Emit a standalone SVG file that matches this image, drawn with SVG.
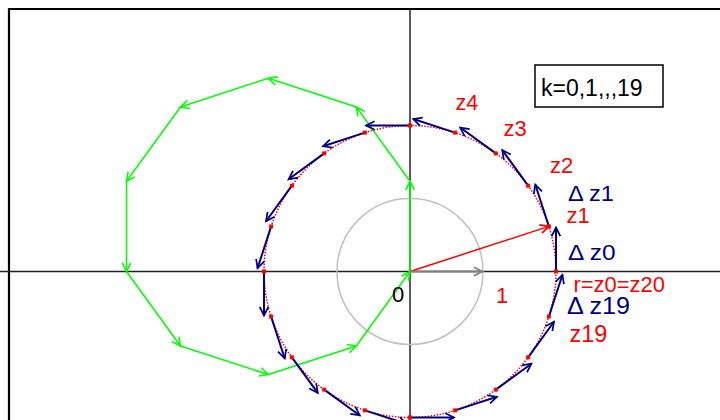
<svg xmlns="http://www.w3.org/2000/svg" width="720" height="420" viewBox="0 0 720 420">
<style>
text{font-family:"Liberation Sans",Arial,sans-serif}
.red{fill:#FF0000}.navy{fill:#000080}
.ax{stroke:#222;stroke-width:1.5;fill:none}
.blue line{stroke:#000080;stroke-width:2;marker-end:url(#mb)}
.green line{stroke:#00FF00;stroke-width:1.5;marker-end:url(#mg)}
.pt{fill:#FF0000}
</style>
<defs>
<marker id="mb" markerUnits="userSpaceOnUse" markerWidth="24" markerHeight="24" refX="0" refY="0" viewBox="-14 -12 28 24" orient="auto" overflow="visible"><path d="M-10,-5 L0,0 L-10,5" fill="none" stroke="#000080" stroke-width="2"/></marker>
<marker id="mg" markerUnits="userSpaceOnUse" markerWidth="24" markerHeight="24" refX="0" refY="0" viewBox="-14 -12 28 24" orient="auto" overflow="visible"><path d="M-10,-5 L0,0 L-10,5" fill="none" stroke="#00FF00" stroke-width="1.8"/></marker>
<marker id="mr" markerUnits="userSpaceOnUse" markerWidth="24" markerHeight="24" refX="0" refY="0" viewBox="-14 -12 28 24" orient="auto" overflow="visible"><path d="M-10,-5 L0,0 L-10,5" fill="none" stroke="#FF0000" stroke-width="2"/></marker>
<marker id="mgr" markerUnits="userSpaceOnUse" markerWidth="24" markerHeight="24" refX="0" refY="0" viewBox="-14 -12 28 24" orient="auto" overflow="visible"><path d="M-10,-5 L0,0 L-10,5" fill="none" stroke="#808080" stroke-width="2"/></marker>
</defs>
<rect width="720" height="420" fill="#fff"/>
<g id="frame"><path d="M9,420 L9,9 L720,9" fill="none" stroke="#000" stroke-width="2.2"/></g>
<g id="axes"><line class="ax" x1="0" y1="271.5" x2="720" y2="271.5"/><line class="ax" x1="410" y1="9" x2="410" y2="420"/></g>
<g id="unit-circle"><circle cx="410" cy="271.5" r="73" fill="none" stroke="#C0C0C0" stroke-width="1.5"/></g>
<g id="r-circle"><circle cx="410" cy="271.5" r="146" fill="none" stroke="#FF0000" stroke-width="1.5" stroke-dasharray="1.5 1.5"/></g>
<g id="connectors">
<g id="green-sum" class="green">
<line x1="410" y1="271.5" x2="410" y2="181.3"/>
<line x1="410" y1="181.3" x2="356.3" y2="107"/>
<line x1="356.3" y1="107" x2="268.3" y2="78.3"/>
<line x1="268.3" y1="78.3" x2="180.5" y2="107"/>
<line x1="180.5" y1="107" x2="126.5" y2="181.3"/>
<line x1="126.5" y1="181.3" x2="126.5" y2="271.5"/>
<line x1="126.5" y1="271.5" x2="180.5" y2="346"/>
<line x1="180.5" y1="346" x2="268.3" y2="374.5"/>
<line x1="268.3" y1="374.5" x2="356.3" y2="346"/>
<line x1="356.3" y1="346" x2="410" y2="271.5"/>
</g>
<g id="delta-z" class="blue">
<line x1="556" y1="271.5" x2="556" y2="227.5"/>
<line x1="548.86" y1="226.39" x2="535.26" y2="184.54"/>
<line x1="528.11" y1="185.68" x2="502.25" y2="150.08"/>
<line x1="495.82" y1="153.39" x2="460.22" y2="127.53"/>
<line x1="455.11" y1="132.64" x2="413.26" y2="119.04"/>
<line x1="410" y1="125.5" x2="366" y2="125.5"/>
<line x1="364.89" y1="132.64" x2="323.04" y2="146.24"/>
<line x1="324.18" y1="153.39" x2="288.58" y2="179.25"/>
<line x1="291.89" y1="185.68" x2="266.03" y2="221.28"/>
<line x1="271.14" y1="226.39" x2="257.54" y2="268.24"/>
<line x1="264" y1="271.5" x2="264" y2="315.5"/>
<line x1="271.14" y1="316.61" x2="284.74" y2="358.46"/>
<line x1="291.89" y1="357.32" x2="317.75" y2="392.92"/>
<line x1="324.18" y1="389.61" x2="359.78" y2="415.47"/>
<line x1="364.89" y1="410.36" x2="406.74" y2="423.96"/>
<line x1="410" y1="417.5" x2="454" y2="417.5"/>
<line x1="455.11" y1="410.36" x2="496.96" y2="396.76"/>
<line x1="495.82" y1="389.61" x2="531.42" y2="363.75"/>
<line x1="528.11" y1="357.32" x2="553.97" y2="321.72"/>
<line x1="548.86" y1="316.61" x2="562.46" y2="274.76"/>
</g>
<line id="r-arrow" x1="410" y1="271.5" x2="548.86" y2="226.39" stroke="#FF0000" stroke-width="1.5" marker-end="url(#mr)"/>
<line id="one-arrow" x1="410" y1="271.5" x2="482.5" y2="271.5" stroke="#808080" stroke-width="2.2" marker-end="url(#mgr)"/>
</g>
<g id="points">
<rect class="pt" x="554" y="269.5" width="4" height="4"/>
<rect class="pt" x="546.86" y="224.39" width="4" height="4"/>
<rect class="pt" x="526.11" y="183.68" width="4" height="4"/>
<rect class="pt" x="493.82" y="151.39" width="4" height="4"/>
<rect class="pt" x="453.11" y="130.64" width="4" height="4"/>
<rect class="pt" x="408" y="123.5" width="4" height="4"/>
<rect class="pt" x="362.89" y="130.64" width="4" height="4"/>
<rect class="pt" x="322.18" y="151.39" width="4" height="4"/>
<rect class="pt" x="289.89" y="183.68" width="4" height="4"/>
<rect class="pt" x="269.14" y="224.39" width="4" height="4"/>
<rect class="pt" x="262" y="269.5" width="4" height="4"/>
<rect class="pt" x="269.14" y="314.61" width="4" height="4"/>
<rect class="pt" x="289.89" y="355.32" width="4" height="4"/>
<rect class="pt" x="322.18" y="387.61" width="4" height="4"/>
<rect class="pt" x="362.89" y="408.36" width="4" height="4"/>
<rect class="pt" x="408" y="415.5" width="4" height="4"/>
<rect class="pt" x="453.11" y="408.36" width="4" height="4"/>
<rect class="pt" x="493.82" y="387.61" width="4" height="4"/>
<rect class="pt" x="526.11" y="355.32" width="4" height="4"/>
<rect class="pt" x="546.86" y="314.61" width="4" height="4"/>
</g>
<g id="labels">
<text class="red" x="455.5" y="110" font-size="21.5">z4</text>
<text class="red" x="503.5" y="135.5" font-size="22">z3</text>
<text class="red" x="550" y="172.5" font-size="22">z2</text>
<text class="navy" x="568" y="200.5" font-size="21.5" textLength="46" lengthAdjust="spacingAndGlyphs">Δ z1</text>
<text class="red" x="566.5" y="222.5" font-size="22">z1</text>
<text class="navy" x="568" y="260" font-size="21.5" textLength="47.5" lengthAdjust="spacingAndGlyphs">Δ z0</text>
<text class="red" x="573.5" y="291.5" font-size="21.5" textLength="91.5" lengthAdjust="spacingAndGlyphs">r=z0=z20</text>
<text class="navy" x="567" y="314" font-size="23.5" textLength="63" lengthAdjust="spacingAndGlyphs">Δ z19</text>
<text class="red" x="569.5" y="341.5" font-size="23.5">z19</text>
<text x="392" y="301.5" font-size="22" fill="#000">0</text>
<text class="red" x="496" y="302.5" font-size="22">1</text>
</g>
<g id="legend"><rect x="535" y="65" width="128" height="42" fill="#fff" stroke="#000" stroke-width="1.5"/><text x="541" y="96" font-size="23" fill="#000">k=0,1,,,19</text></g>
</svg>
